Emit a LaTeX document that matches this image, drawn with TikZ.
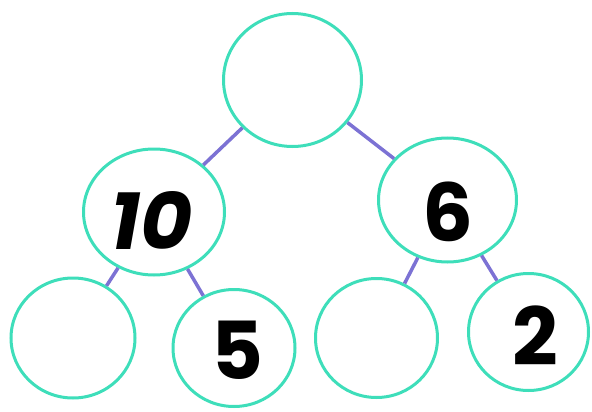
\documentclass[tikz,border=0pt]{standalone}
\usepackage{fontspec}
\setmainfont{Poppins}
\usepackage{tikz}
\usetikzlibrary{shapes.geometric}
\definecolor{bondring}{RGB}{62,222,186}
\definecolor{bondline}{RGB}{124,114,212}

\begin{document}
\begin{tikzpicture}[x=1pt,y=-1pt]
\tikzset{vertex/.style = {shape=ellipse,draw=bondring,line width=3pt,inner sep=0pt}}
\tikzset{edge/.style = {-,draw=bondline,line width=3.5pt}}
\tikzset{num/.style = {font=\fontsize{80}{80}\selectfont\bfseries,inner sep=0pt}}
\useasboundingbox (0,0) rectangle (592,412);
% vertices
\node[vertex,minimum width=138pt,minimum height=133pt] (whole) at (292.5,80) {};
\node[vertex,minimum width=141pt,minimum height=126pt] (ten) at (154,212) {};
\node[vertex,minimum width=138pt,minimum height=124pt] (six) at (447.5,200) {};
\node[vertex,minimum width=124pt,minimum height=120pt] (p1) at (73,338) {};
\node[vertex,minimum width=122pt,minimum height=117pt] (five) at (234,348) {};
\node[vertex,minimum width=122pt,minimum height=119pt] (p3) at (376.5,338) {};
\node[vertex,minimum width=120pt,minimum height=117pt] (two) at (528.5,332) {};
% numbers
\node[num] (n10) at (152,220) {\itshape 10};
\node[num] (n6) at (448,212) {6};
\node[num] (n5) at (237,350) {5};
\node[num] (n2) at (535,336) {2};
%edges
\draw[edge] (whole) to (ten);
\draw[edge] (whole) to (six);
\draw[edge] (ten) to (p1);
\draw[edge] (ten) to (five);
\draw[edge] (six) to (p3);
\draw[edge] (six) to (two);
\end{tikzpicture}
\end{document}
